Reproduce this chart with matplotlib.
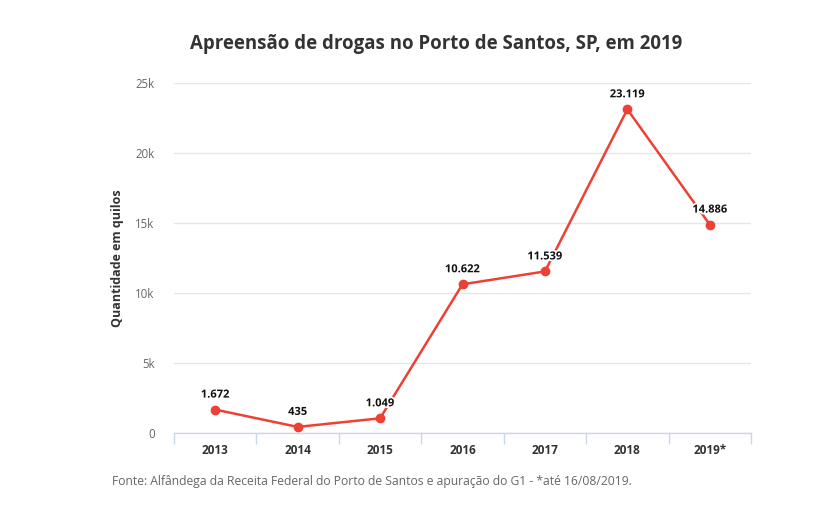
import matplotlib
matplotlib.use("Agg")
import matplotlib.pyplot as plt
import matplotlib.patheffects as pe
from matplotlib.ticker import FuncFormatter

years = ["2013", "2014", "2015", "2016", "2017", "2018", "2019*"]
values = [1672, 435, 1049, 10622, 11539, 23119, 14886]
labels = ["1.672", "435", "1.049", "10.622", "11.539", "23.119", "14.886"]
y_ticks = [0, 5000, 10000, 15000, 20000, 25000]

plt.rcParams['font.family'] = ['Open Sans', 'DejaVu Sans']

fig = plt.figure(figsize=(8.21, 5.22), dpi=100)
ax = fig.add_axes([174/821, 1-433/522, 577/821, 350/522])

x = list(range(len(years)))
red = "#ee4035"
ax.plot(x, values, color=red, lw=1.8, marker="o", ms=6, zorder=3, clip_on=False)
for xi, v, lab in zip(x, values, labels):
    ax.annotate(lab, (xi, v), xytext=(0, 6.5), textcoords="offset points",
                ha="center", va="bottom", fontsize=8, fontweight="bold", color="#111111",
                path_effects=[pe.withStroke(linewidth=2.5, foreground="white")], zorder=4)

ax.set_xlim(-0.5, len(years) - 0.5)
ax.set_ylim(0, 25000)
ax.set_yticks(y_ticks)
ax.yaxis.set_major_formatter(FuncFormatter(lambda v, p: "0" if v == 0 else f"{int(v/1000)}k"))
ax.set_xticks(x)
ax.set_xticklabels(years, fontsize=8.5, fontweight="bold", color="#333333")
ax.set_xticks([i - 0.5 for i in range(len(years) + 1)], minor=True)
ax.tick_params(axis="x", which="major", length=0, pad=8)
ax.tick_params(axis="x", which="minor", length=8, color="#ccd6eb", width=1)
ax.tick_params(axis="y", length=0, labelsize=8.3, labelcolor="#666666", pad=14)
for lab in ax.get_yticklabels():
    lab.set_horizontalalignment("right")

ax.grid(axis="y", color="#e6e6e6", lw=1)
ax.set_axisbelow(True)
for s in ["top", "right", "left"]:
    ax.spines[s].set_visible(False)
ax.spines["bottom"].set_color("#ccd6eb")
ax.spines["bottom"].set_linewidth(1)

ax.set_ylabel("Quantidade em quilos", fontsize=9, fontweight="bold", color="#333333", labelpad=18)
ax.yaxis.set_label_coords(-50/577, 0.5)

fig.text(436/821, 1-44/522, "Apreensão de drogas no Porto de Santos, SP, em 2019",
         ha="center", va="center", fontsize=13.4, fontweight="bold", color="#333333")
fig.text(112/821, 1-481/522,
         "Fonte: Alfândega da Receita Federal do Porto de Santos e apuração do G1 - *até 16/08/2019.",
         ha="left", va="center", fontsize=8.75, color="#666666")

fig.savefig("out.png", dpi=100, facecolor="white")
